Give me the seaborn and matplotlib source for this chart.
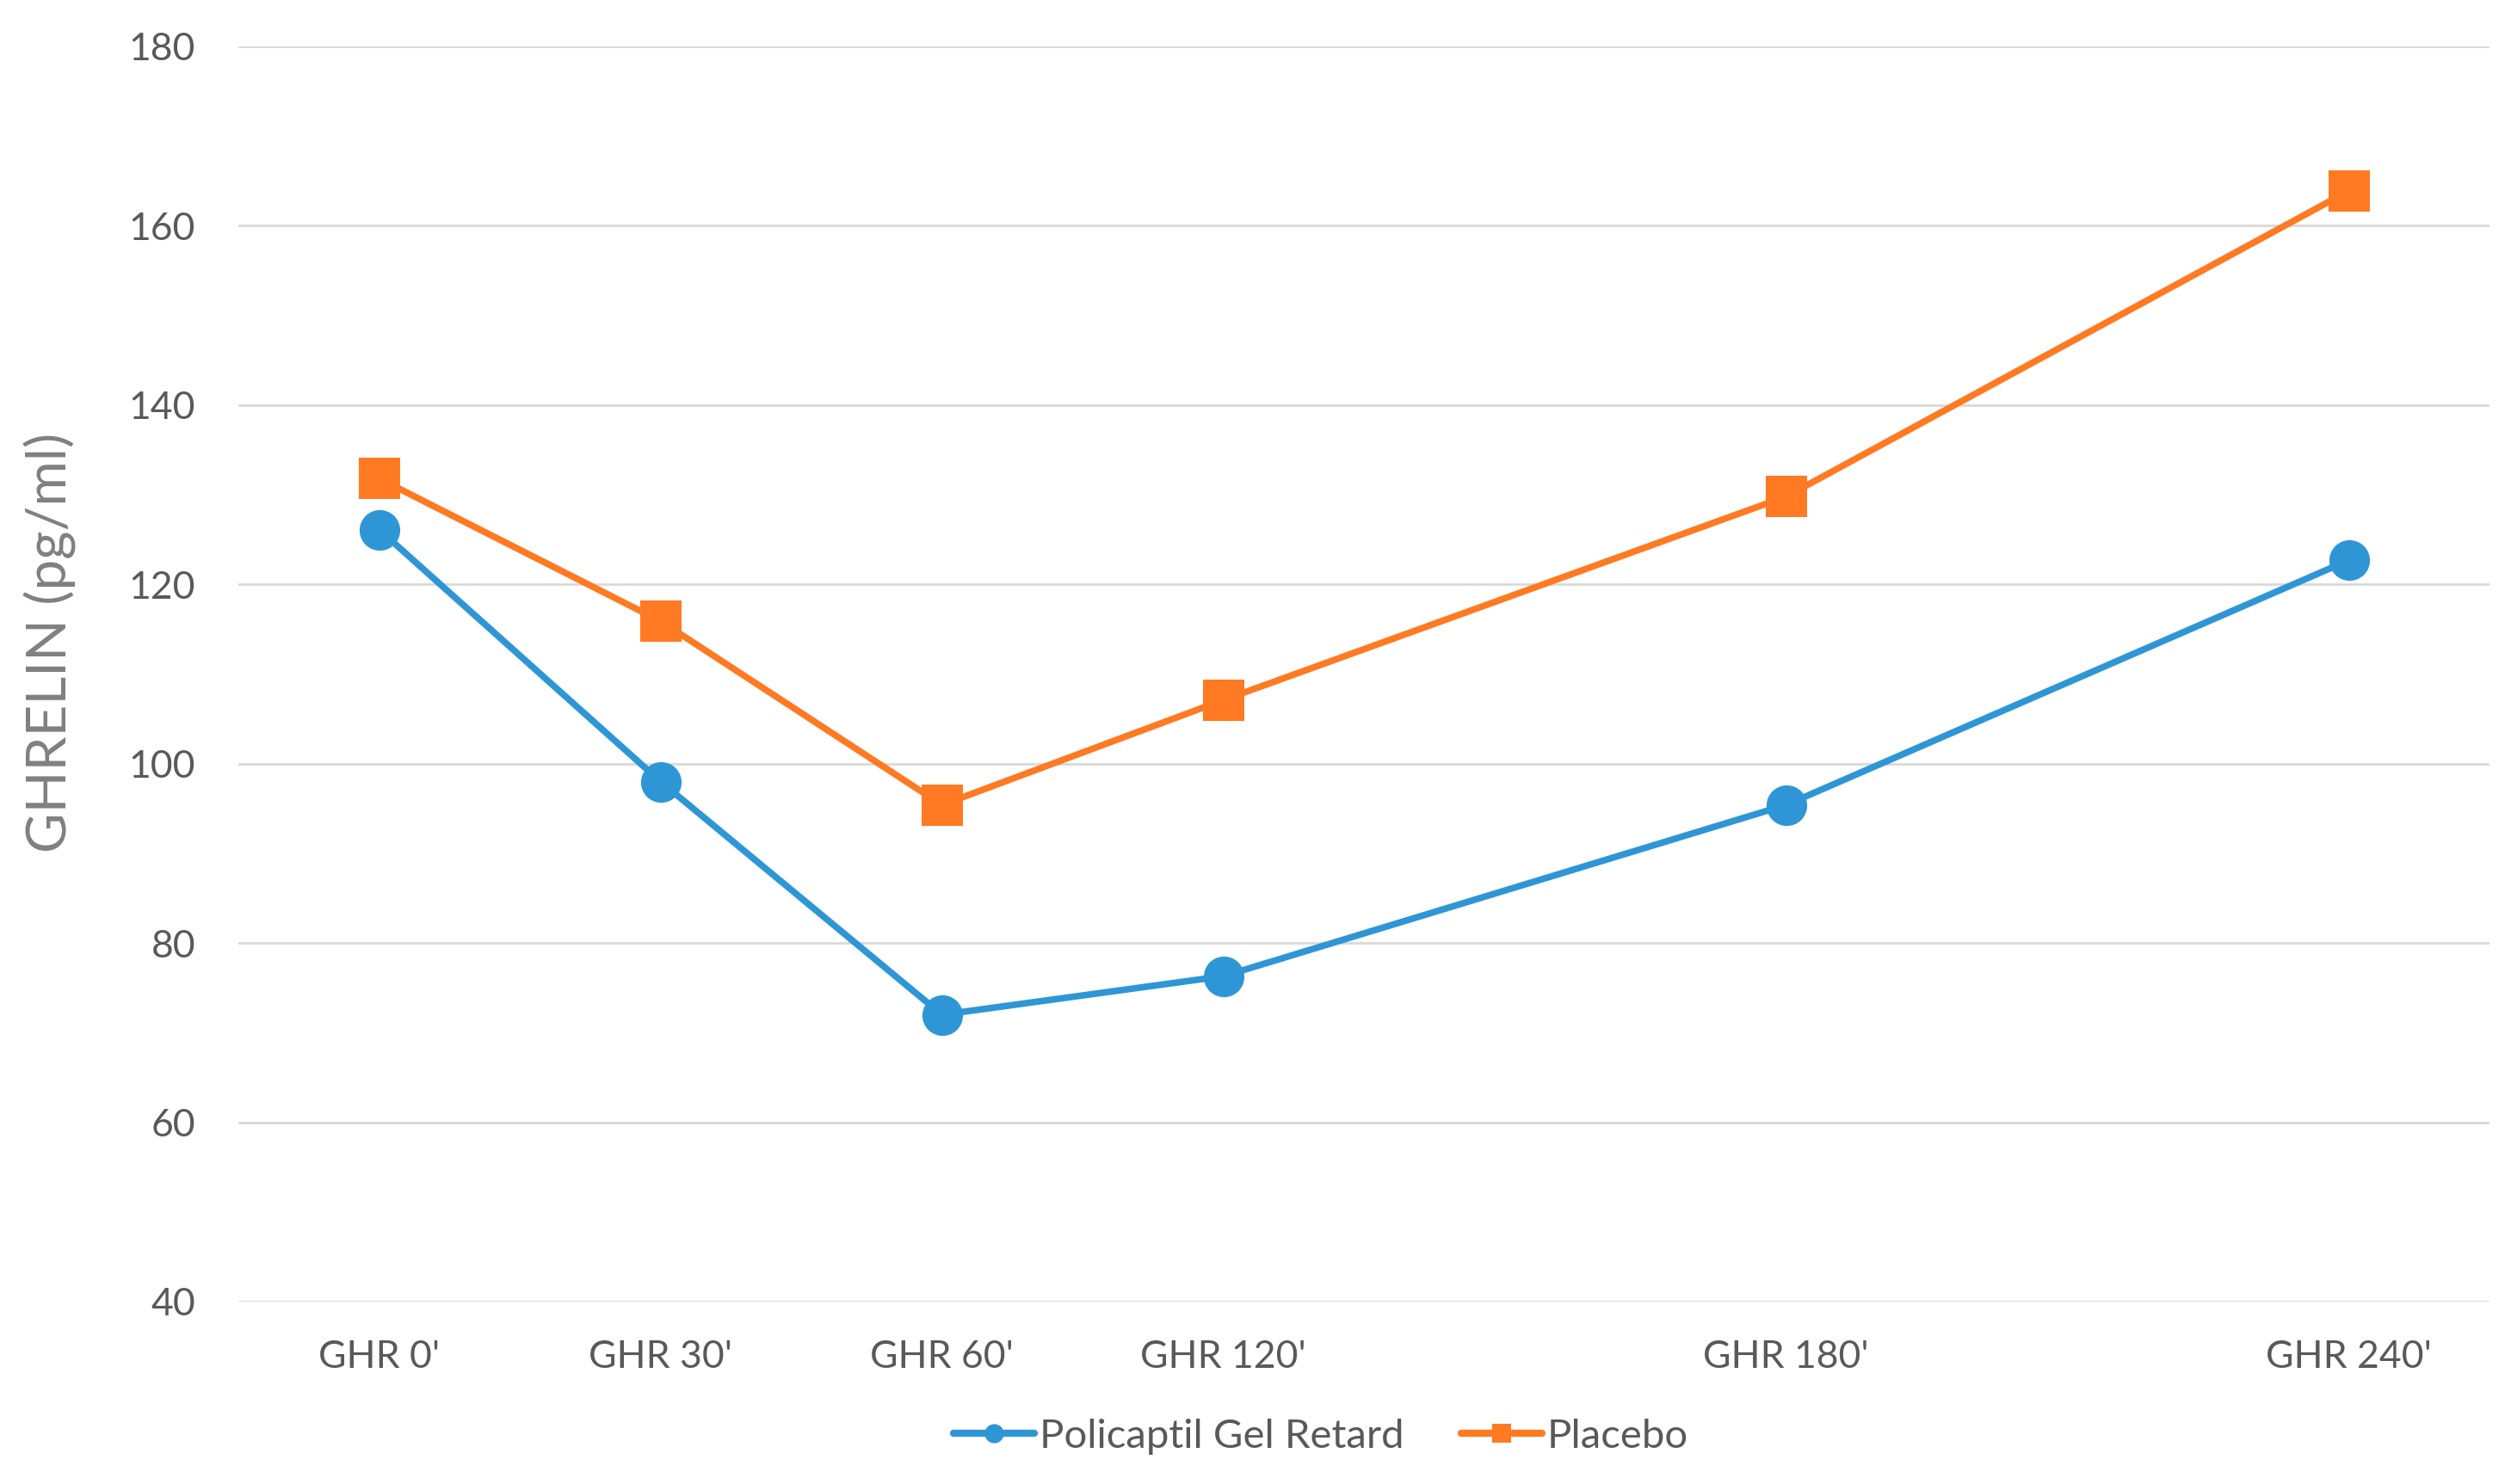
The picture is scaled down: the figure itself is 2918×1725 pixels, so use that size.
import matplotlib
matplotlib.use("Agg")
import matplotlib.pyplot as plt
import pandas as pd
import seaborn as sns

# category axis slots (the chart leaves two empty slots)
slots = ["GHR 0'", "GHR 30'", "GHR 60'", "GHR 120'", "", "GHR 180'", "", "GHR 240'"]
times = ["GHR 0'", "GHR 30'", "GHR 60'", "GHR 120'", "GHR 180'", "GHR 240'"]
policaptil = [126.1, 98.0, 72.0, 76.3, 95.4, 122.7]
placebo = [131.8, 115.9, 95.4, 107.1, 129.8, 163.9]
groups = ["Policaptil Gel Retard", "Placebo"]
yticks = [40, 60, 80, 100, 120, 140, 160, 180]

sns.set_style("white")
plt.rcParams['font.family'] = ['Lato', 'DejaVu Sans']

df = pd.DataFrame({
    "time": times * 2,
    "ghrelin": policaptil + placebo,
    "group": [groups[0]] * len(times) + [groups[1]] * len(times),
})
df["slot"] = df["time"].map(slots.index)

fig = plt.figure(figsize=(29.18, 17.25), dpi=100)
ax = fig.add_axes([0.0950, 0.1229, 0.8965, 0.8458])

sns.lineplot(data=df, x="slot", y="ghrelin", hue="group", style="group",
             hue_order=groups, style_order=groups,
             palette={groups[0]: "#2F96D6", groups[1]: "#FF7A22"},
             markers={groups[0]: "o", groups[1]: "s"}, dashes=False,
             linewidth=5.5, markersize=34, markeredgewidth=0, ax=ax)

ax.set_xlim(-0.5, len(slots) - 0.5)
ax.set_ylim(40, 180)
ax.set_yticks(yticks)
ax.set_xticks([slots.index(t) for t in times])
ax.set_xticklabels(times)
ax.grid(axis='y', color='#D9D9D9', linewidth=2)
ax.grid(axis='x', visible=False)
for s in ax.spines.values():
    s.set_visible(False)
ax.tick_params(axis='both', length=0, labelsize=32, colors='#595959')
ax.tick_params(axis='x', pad=32)
ax.tick_params(axis='y', pad=36)

ax.set_xlabel("")
ax.set_ylabel("GHRELIN (pg/ml)", fontsize=46, color='#808080')
ax.yaxis.set_label_coords(-0.072, 0.525)

leg = ax.legend(loc='center', bbox_to_anchor=(0.526, 0.032), bbox_transform=fig.transFigure,
                ncol=2, frameon=False, fontsize=34, handlelength=2.0,
                handletextpad=0.12, columnspacing=1.4)
for h in leg.legend_handles:
    h.set_markersize(16)
    h.set_linewidth(6)
for t in leg.get_texts():
    t.set_color('#595959')

fig.savefig("out.png", dpi=100)
